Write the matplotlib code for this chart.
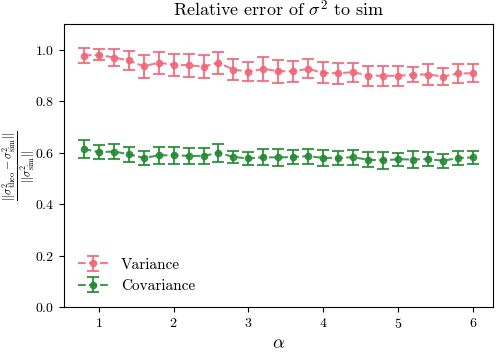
import numpy as np
import matplotlib
matplotlib.use("Agg")
import matplotlib.pyplot as plt

plt.rcParams['font.family'] = 'serif'
plt.rcParams['font.serif'] = ['cmr10']
plt.rcParams['mathtext.fontset'] = 'cm'
plt.rcParams['axes.formatter.use_mathtext'] = True
plt.rcParams['axes.unicode_minus'] = False

alpha = np.round(np.arange(0.8, 6.01, 0.2), 1)

var_mean = [0.979, 0.982, 0.971, 0.960, 0.937, 0.951, 0.943, 0.941, 0.936, 0.951,
            0.924, 0.916, 0.927, 0.918, 0.918, 0.927, 0.911, 0.910, 0.914, 0.901,
            0.900, 0.900, 0.905, 0.905, 0.897, 0.909, 0.910]
var_err = [0.029, 0.022, 0.032, 0.038, 0.045, 0.043, 0.043, 0.044, 0.044, 0.043,
           0.041, 0.038, 0.046, 0.045, 0.041, 0.037, 0.041, 0.041, 0.037, 0.039,
           0.038, 0.039, 0.030, 0.039, 0.034, 0.038, 0.036]

cov_mean = [0.615, 0.603, 0.605, 0.595, 0.580, 0.590, 0.591, 0.588, 0.588, 0.600,
            0.584, 0.578, 0.583, 0.582, 0.584, 0.587, 0.580, 0.580, 0.583, 0.573,
            0.571, 0.575, 0.574, 0.576, 0.569, 0.580, 0.582]
cov_err = [0.034, 0.027, 0.029, 0.029, 0.029, 0.033, 0.033, 0.031, 0.030, 0.034,
           0.025, 0.025, 0.032, 0.032, 0.027, 0.029, 0.030, 0.029, 0.029, 0.029,
           0.033, 0.025, 0.033, 0.029, 0.028, 0.029, 0.027]

fig = plt.figure(figsize=(4.98, 3.54), dpi=100)
ax = fig.add_axes([0.129, 0.133, 0.860, 0.798])

ax.errorbar(alpha, var_mean, yerr=var_err, fmt='o--', color='#EE6677', ms=4.5,
            capsize=4, elinewidth=1.5, capthick=1.5, lw=1.5, alpha=0.85, label='Variance')
ax.errorbar(alpha, cov_mean, yerr=cov_err, fmt='o--', color='#228833', ms=4.5,
            capsize=4, elinewidth=1.5, capthick=1.5, lw=1.5, alpha=0.85, label='Covariance')

ax.set_ylim(0, 1.1)
ax.set_xticks([1, 2, 3, 4, 5, 6])
ax.set_yticks([0.0, 0.2, 0.4, 0.6, 0.8, 1.0])
ax.tick_params(labelsize=10)
ax.set_title(r'Relative error of $\sigma^2$ to sim', fontsize=13)
ax.set_xlabel(r'$\alpha$', fontsize=13)
ax.set_ylabel(r'$\frac{||\sigma^2_{\rm theo} - \sigma^2_{\rm sim}||}{||\sigma^2_{\rm sim}||}$',
              fontsize=12)
ax.yaxis.set_label_coords(-0.064, 0.5)
ax.legend(loc='lower left', frameon=False, fontsize=11)

fig.savefig('out.png', dpi=100)
